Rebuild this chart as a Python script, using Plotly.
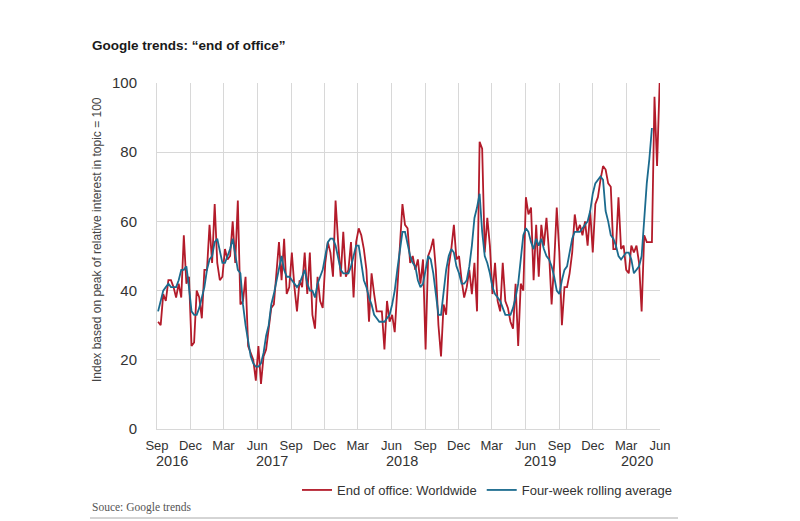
import pandas as pd
import plotly.graph_objects as go

# ---- data (weekly Google Trends index) ----
start_week = "2016-09-04"

worldwide = [
    31, 30, 39, 37, 43, 43, 41, 38, 42, 38, 56, 42, 44,
    24, 25, 40, 38, 32, 46, 46, 59, 48, 65, 48, 43, 44,
    52, 49, 50, 60, 48, 66, 36, 37, 44, 24, 22, 20, 14,
    24, 13, 21, 23, 30, 35, 36, 46, 54, 43, 55, 39, 41,
    51, 41, 34, 43, 41, 51, 39, 51, 33, 29, 44, 37, 35,
    48, 54, 51, 44, 66, 54, 44, 57, 44, 46, 54, 38, 54,
    58, 56, 52, 46, 31, 45, 39, 34, 34, 34, 23, 37, 31,
    33, 28, 40, 52, 65, 59, 58, 48, 50, 46, 49, 42, 49,
    23, 50, 52, 55, 46, 30, 21, 36, 33, 47, 52, 59, 49,
    50, 43, 38, 41, 46, 39, 48, 34, 83, 81, 51, 61, 53,
    39, 48, 37, 34, 48, 37, 35, 31, 29, 42, 24, 42, 40,
    67, 62, 64, 43, 59, 44, 59, 53, 61, 51, 36, 48, 64,
    51, 30, 41, 41, 45, 51, 62, 57, 59, 56, 60, 53, 63,
    51, 65, 67, 72, 76, 75, 71, 70, 52, 52, 67, 52, 53,
    46, 45, 53, 51, 53, 48, 34, 56, 54, 54, 54, 96, 76,
    100,
]

rolling_avg = [
    34, 37, 40, 41, 42, 41, 41, 41, 43, 46, 46, 47, 41,
    34, 33, 33, 35, 38, 41, 46, 49, 50, 54, 55, 51, 48,
    48, 50, 52, 55, 50, 46, 45, 36, 30, 25, 21, 19, 18,
    18, 19, 22, 27, 30, 36, 39, 43, 46, 50, 46, 44, 44,
    43, 42, 41, 42, 44, 46, 42, 40, 40, 38, 42, 44, 46,
    50, 54, 55, 55, 53, 49, 46, 45, 45, 45, 47, 50, 53,
    53, 48, 43, 41, 38, 36, 33, 32, 31, 31, 31, 32, 33,
    36, 40, 46, 52, 57, 57, 53, 50, 48, 47, 43, 41, 42,
    46, 50, 49, 45, 39, 33, 33, 40, 46, 50, 52, 51, 47,
    45, 42, 42, 43, 47, 53, 61, 64, 68, 57, 50, 48, 45,
    41, 39, 38, 37, 35, 33, 33, 33, 35, 38, 42, 49, 56,
    58, 57, 54, 52, 55, 53, 55, 52, 50, 49, 47, 44, 40,
    39, 43, 46, 47, 51, 55, 57, 57, 57, 58, 59, 60, 63,
    68, 71, 72, 73, 72, 63, 60, 56, 55, 53, 50, 49, 50,
    51, 51, 49, 45, 46, 47, 50, 62, 71, 78, 87,
    None, None, None,
]

tick_dates = [
    "2016-09-01", "2016-12-01", "2017-03-01", "2017-06-01",
    "2017-09-01", "2017-12-01", "2018-03-01", "2018-06-01",
    "2018-09-01", "2018-12-01", "2019-03-01", "2019-06-01",
    "2019-09-01", "2019-12-01", "2020-03-01", "2020-06-01",
]
tick_labels = ["Sep", "Dec", "Mar", "Jun"] * 4
year_labels = ["2016", "2017", "2018", "2019", "2020"]
year_centers_px = [172, 272, 402, 540, 637]

series_names = ["End of office: Worldwide", "Four-week rolling average"]
RED = "#b31b2a"
BLUE = "#1b6b8e"

dates = pd.date_range(start_week, periods=len(worldwide), freq="7D")

# ---- geometry (page has an 8px body margin, so shift reference pixels) ----
OFF = 8
W, H = 800, 521
L, R, T, B = 157 - OFF, 660 - OFF, 83 - OFF, 429 - OFF
pw, ph = R - L, B - T


def px(x):
    return (x - OFF - L) / pw


def py(y):
    return (B - (y - OFF)) / ph


fig = go.Figure()
fig.add_trace(go.Scatter(x=dates, y=worldwide, mode="lines", name=series_names[0],
                         line=dict(color=RED, width=1.8)))
fig.add_trace(go.Scatter(x=dates, y=rolling_avg, mode="lines", name=series_names[1],
                         line=dict(color=BLUE, width=1.8)))

GRID = "#d8d8d8"
fig.update_layout(
    width=W, height=H,
    margin=dict(l=L, r=W - R, t=T, b=H - B, pad=0),
    paper_bgcolor="white", plot_bgcolor="white",
    font=dict(family="Liberation Sans, Arial, sans-serif", color="#333333"),
    showlegend=True,
    legend=dict(orientation="h", xref="container", yref="container",
                x=(297 - OFF) / W, xanchor="left", y=1 - (490 - OFF) / H, yanchor="middle",
                font=dict(size=13, color="#333333"), bgcolor="rgba(0,0,0,0)",
                itemwidth=30, traceorder="normal"),
)

fig.update_xaxes(
    type="date", range=["2016-09-01", "2020-06-01"],
    tickmode="array", tickvals=tick_dates, ticktext=tick_labels,
    tickfont=dict(size=13, color="#333333"), ticks="", ticklabelstandoff=4,
    showgrid=True, gridcolor=GRID, gridwidth=1,
    showline=True, linecolor=GRID, linewidth=1, zeroline=False,
)
fig.update_yaxes(
    range=[0, 100], tickvals=[0, 20, 40, 60, 80, 100],
    tickfont=dict(size=15, color="#333333"), ticks="", ticklabelstandoff=16,
    showgrid=True, gridcolor=GRID, gridwidth=1,
    showline=True, linecolor=GRID, linewidth=1, zeroline=False,
)

annotations = [
    dict(text="Google trends: \u201cend of office\u201d", xref="paper", yref="paper",
         x=px(90), y=py(45), xanchor="left", yanchor="middle",
         showarrow=False, font=dict(size=13.5, color="#1a1a1a",
                                     family="Liberation Sans, Arial, sans-serif", weight="bold")),
    dict(text="Index based on peak of relative interest in topic = 100", xref="paper", yref="paper",
         x=px(97), y=py(240), xanchor="center", yanchor="middle",
         textangle=-90, showarrow=False, font=dict(size=12, color="#444444")),
    dict(text="Souce: Google trends", xref="paper", yref="paper",
         x=px(90), y=py(507), xanchor="left", yanchor="middle",
         showarrow=False, font=dict(size=11.5, color="#555555",
                                     family="Liberation Serif, Times New Roman, serif")),
]
for lab, cx in zip(year_labels, year_centers_px):
    annotations.append(dict(text=lab, xref="paper", yref="paper",
                            x=px(cx), y=py(461), xanchor="center", yanchor="middle",
                            showarrow=False, font=dict(size=14.5, color="#333333")))
fig.update_layout(annotations=annotations)

fig.add_shape(type="line", xref="paper", yref="paper",
              x0=px(90), x1=px(678), y0=py(518), y1=py(518),
              line=dict(color="#aaaaaa", width=1))

fig.write_html("out.html")
